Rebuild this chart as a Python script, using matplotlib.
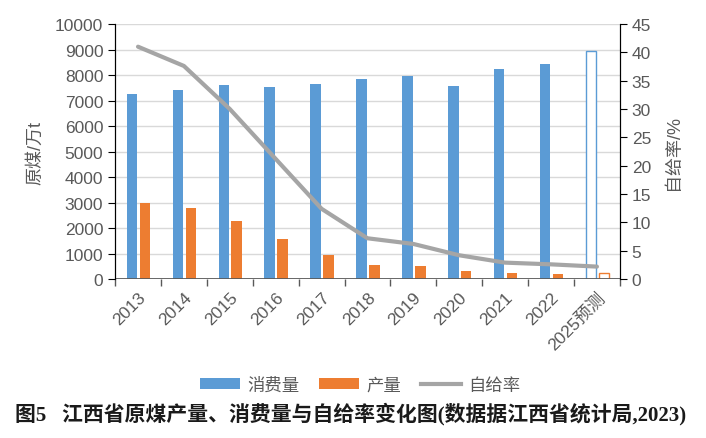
import matplotlib
matplotlib.use('Agg')
import matplotlib.pyplot as plt
import numpy as np
from matplotlib.lines import Line2D
from matplotlib.patches import Patch

plt.rcParams['font.family'] = ['Liberation Sans', 'Noto Sans CJK SC']

years = ['2013', '2014', '2015', '2016', '2017', '2018', '2019', '2020', '2021', '2022', '2025预测']
consumption = [7250, 7420, 7620, 7520, 7640, 7850, 7960, 7570, 8220, 8440, 8960]
production = [2980, 2800, 2270, 1560, 940, 550, 500, 330, 250, 210, 220]
self_rate = [41.0, 37.6, 30.0, 21.2, 12.4, 7.2, 6.2, 4.2, 2.9, 2.6, 2.2]

blue = '#5b9bd5'
orange = '#ed7d31'
gray = '#a5a5a5'
txt = '#595959'

fig = plt.figure(figsize=(7.06, 4.39), dpi=100)
ax = fig.add_axes([0.163, 0.362, 0.715, 0.581])
ax2 = ax.twinx()

x = np.arange(len(years))
w = 0.23
n = len(years) - 1
ax.bar(x[:n] - 0.13, consumption[:n], w, color=blue, zorder=3)
ax.bar(x[:n] + 0.15, production[:n], w, color=orange, zorder=3)
ax.bar(x[n] - 0.13, consumption[n], w, facecolor='white', edgecolor=blue, linewidth=1, zorder=3)
ax.bar(x[n] + 0.15, production[n], w, facecolor='white', edgecolor=orange, linewidth=1, zorder=3)

ax2.plot(x, self_rate, color=gray, linewidth=3, solid_capstyle='round', zorder=4)

ax.set_xlim(-0.5, len(years) - 0.5)
ax.set_ylim(0, 10000)
ax.set_yticks(np.arange(0, 10001, 1000))
ax2.set_ylim(0, 45)
ax2.set_yticks(np.arange(0, 46, 5))

ax.yaxis.grid(True, color='#d9d9d9', linewidth=1, zorder=0)
ax.set_axisbelow(True)

for a in (ax, ax2):
    a.spines['top'].set_visible(False)
    a.spines['bottom'].set_visible(False)
    a.spines['left'].set_color('black')
    a.spines['right'].set_color('black')
ax.axhline(0, color='#595959', linewidth=2, zorder=5)

ax.set_xticks(x)
ax.set_xticklabels(years, rotation=45, ha='right', va='top', rotation_mode='anchor', color=txt, fontsize=12.5)
ax.set_xticks(np.arange(-0.5, len(years), 1), minor=True)
ax.tick_params(axis='x', which='major', length=0, pad=7)
ax.tick_params(axis='x', which='minor', length=5, color='#595959', width=1)
ax.tick_params(axis='y', labelsize=12.5, labelcolor=txt, length=5, direction='out')
ax2.tick_params(axis='y', labelsize=12.5, labelcolor=txt, length=5, direction='out')

ax.set_ylabel('原煤/万t', color=txt, fontsize=13, labelpad=8)
ax2.set_ylabel('自给率/%', color=txt, fontsize=13, labelpad=10)

handles = [Patch(facecolor=blue), Patch(facecolor=orange), Line2D([0], [0], color=gray, linewidth=3)]
fig.legend(handles, ['消费量', '产量', '自给率'], loc='center', bbox_to_anchor=(0.51, 0.122),
           ncol=3, frameon=False, fontsize=12.5, handlelength=2.3, handleheight=0.6,
           columnspacing=1.15, handletextpad=0.4, labelcolor=txt)

fig.text(0.497, 0.056, '图5   江西省原煤产量、消费量与自给率变化图(数据据江西省统计局,2023)',
         ha='center', va='center', fontsize=15, fontweight='bold',
         family=['Liberation Serif', 'Noto Sans CJK SC'], color='#1a1a1a')

fig.savefig('out.png', dpi=100)
